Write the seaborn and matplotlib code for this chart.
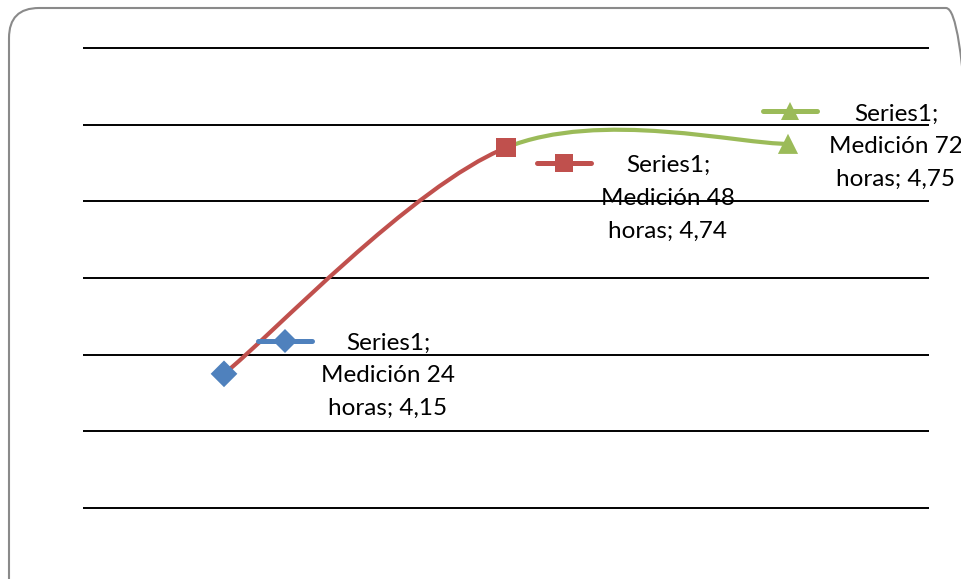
import numpy as np
import pandas as pd
import matplotlib
matplotlib.use("Agg")
import matplotlib.pyplot as plt
import seaborn as sns
from matplotlib.path import Path
from matplotlib.patches import PathPatch, FancyBboxPatch
from matplotlib.lines import Line2D
from matplotlib.transforms import IdentityTransform

# Data
categories = ["Medición 24 horas", "Medición 48 horas", "Medición 72 horas"]
values = [4.15, 4.74, 4.75]
series_name = "Series1"
colors = ["#4F81BD", "#C0504D", "#9BBB59"]
marker_shapes = ["D", "s", "^"]
marker_sizes = [185, 200, 210]  # pt^2
y_ticks = [3.8, 4.0, 4.2, 4.4, 4.6, 4.8, 5.0]

# Layout of the data labels (pixel offsets from each point)
label_offsets = [(164, -2), (162, -51), (108, -3)]
key_offsets = [(61, 33), (58, -15), (2, 33)]
KEY_HALF = 27

sns.set_theme(style="white")
plt.rcParams["font.family"] = ["Lato", "DejaVu Sans"]

W, H = 961, 579
fig = plt.figure(figsize=(W / 100, H / 100), dpi=100)
fig.patch.set_facecolor("white")

# Rounded chart-area frame
frame = FancyBboxPatch((9, -30), 976 - 9, 571 + 30,
                       boxstyle="round,pad=0,rounding_size=30",
                       transform=IdentityTransform(), facecolor="none",
                       edgecolor="#8a8a8a", linewidth=1.5, zorder=0)
fig.add_artist(frame)

ax = fig.add_axes([83 / W, (H - 508) / H, 846 / W, 460 / H])
ax.set_facecolor("none")
xs = np.arange(len(values), dtype=float)
ax.set_xlim(-0.5, len(values) - 0.5)
ax.set_ylim(y_ticks[0], y_ticks[-1])
for s in ax.spines.values():
    s.set_visible(False)
ax.set_xticks([])
ax.set_yticks([])

# Horizontal gridlines
ax.hlines(y_ticks, -0.5, len(values) - 0.5, colors="black", linewidth=1.4,
          clip_on=False, zorder=1)

# Smoothed line: Catmull-Rom style Bezier segments, colored by end point
pts = np.column_stack([xs, values])
n = len(pts)
for i in range(n - 1):
    p0 = pts[i]
    p1 = pts[i + 1]
    prev = pts[i - 1] if i > 0 else p0
    nxt = pts[i + 2] if i + 2 < n else p1
    c1 = p0 + (p1 - prev) / 6.0
    c2 = p1 - (nxt - p0) / 6.0
    path = Path([p0, c1, c2, p1],
                [Path.MOVETO, Path.CURVE4, Path.CURVE4, Path.CURVE4])
    ax.add_patch(PathPatch(path, facecolor="none", edgecolor=colors[i + 1],
                           linewidth=3.0, capstyle="round", zorder=2,
                           clip_on=False))

df = pd.DataFrame({"x": xs, "y": values, "cat": categories})
sns.scatterplot(data=df, x="x", y="y", hue="cat", style="cat", size="cat",
                palette=dict(zip(categories, colors)),
                markers=dict(zip(categories, marker_shapes)),
                sizes=dict(zip(categories, marker_sizes)),
                linewidth=0, legend=False, ax=ax, zorder=3, clip_on=False)
ax.set_xlabel("")
ax.set_ylabel("")

# Data labels with legend keys
fig.canvas.draw()
for i, (cat, val) in enumerate(zip(categories, values)):
    head, tail = cat.rsplit(" ", 1)
    txt = f"{series_name};\n{head}\n{tail}; {val:.2f}".replace(".", ",")
    ax.annotate(txt, xy=(xs[i], val), xytext=label_offsets[i],
                textcoords="offset pixels", ha="center", va="center",
                fontsize=17.5, color="black", linespacing=1.7,
                annotation_clip=False, zorder=4)
    px, py = ax.transData.transform((xs[i], val))
    kx, ky = px + key_offsets[i][0], py + key_offsets[i][1]
    fig.add_artist(Line2D([kx - KEY_HALF, kx + KEY_HALF], [ky, ky],
                          color=colors[i], linewidth=3.6,
                          solid_capstyle="round",
                          transform=IdentityTransform(), zorder=4))
    fig.add_artist(Line2D([kx], [ky], marker=marker_shapes[i],
                          markersize=np.sqrt(marker_sizes[i]) * 0.9,
                          color=colors[i], markeredgewidth=0, linestyle="none",
                          transform=IdentityTransform(), zorder=5))

fig.savefig("out.png", dpi=100)
